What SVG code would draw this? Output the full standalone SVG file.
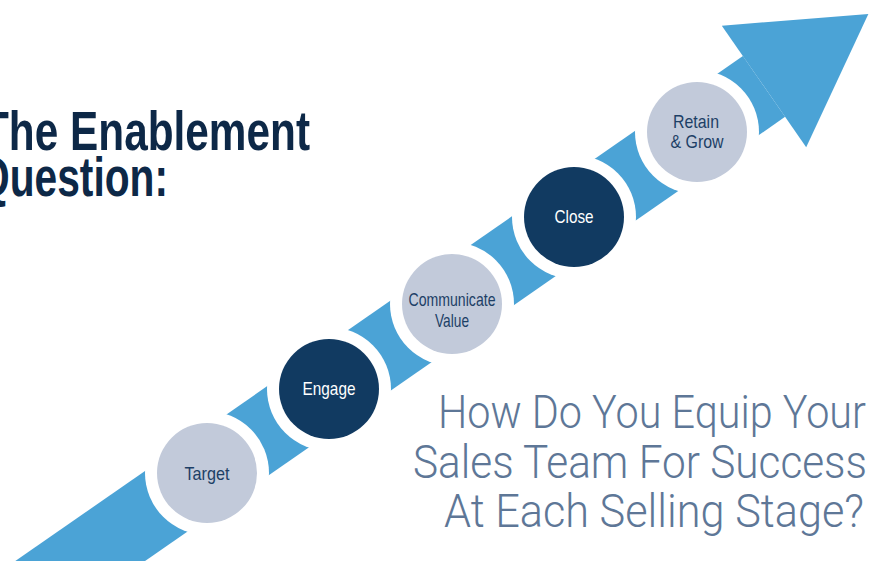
<svg xmlns="http://www.w3.org/2000/svg" width="882" height="561" viewBox="0 0 882 561">
  <style>
    .band { fill: #4BA3D6; }
    .halo { fill: #FFFFFF; }
    .light { fill: #C2CADA; }
    .dark { fill: #113A61; }
    .lbl { font-family: "Liberation Sans", Arial, sans-serif; font-size: 19px; text-anchor: middle; }
    .lbl-dark { fill: #1D3F66; }
    .lbl-light { fill: #FFFFFF; }
    .title { font-family: "Liberation Sans", Arial, sans-serif; font-weight: bold; font-size: 55px; fill: #0D2847; }
    .sub { font-family: Roboto, "Liberation Sans", sans-serif; font-weight: 300; font-size: 46px; fill: #5E7797; text-anchor: end; }
  </style>

  <rect width="882" height="561" fill="#FFFFFF"/>

  <!-- rising arrow: shaft and head drawn along the stage axis -->
  <g id="connectors" transform="translate(207,473) rotate(-34.76)">
    <rect class="band" x="-420" y="-37" width="1098" height="74"/>
    <polygon class="band" points="678,-74 805,0 678,74"/>
  </g>

  <!-- heading -->
  <g id="heading">
    <text class="title" x="-17" y="150" textLength="327" lengthAdjust="spacingAndGlyphs">The Enablement</text>
    <text class="title" x="-22" y="196" textLength="190" lengthAdjust="spacingAndGlyphs">Question:</text>
  </g>

  <!-- stages -->
  <g id="target">
    <circle class="halo" cx="207" cy="473" r="62"/>
    <circle class="light" cx="207" cy="473" r="50"/>
    <text class="lbl lbl-dark" x="207" y="480" textLength="45" lengthAdjust="spacingAndGlyphs">Target</text>
  </g>
  <g id="engage">
    <circle class="halo" cx="329" cy="389" r="62"/>
    <circle class="dark" cx="329" cy="389" r="50"/>
    <text class="lbl lbl-light" x="329" y="395" textLength="53" lengthAdjust="spacingAndGlyphs">Engage</text>
  </g>
  <g id="communicate-value">
    <circle class="halo" cx="452" cy="304" r="62"/>
    <circle class="light" cx="452" cy="304" r="50"/>
    <text class="lbl lbl-dark" x="452" y="306" textLength="87" lengthAdjust="spacingAndGlyphs">Communicate</text>
    <text class="lbl lbl-dark" x="452" y="327" textLength="34" lengthAdjust="spacingAndGlyphs">Value</text>
  </g>
  <g id="close">
    <circle class="halo" cx="574" cy="217" r="62"/>
    <circle class="dark" cx="574" cy="217" r="50"/>
    <text class="lbl lbl-light" x="574" y="223" textLength="39" lengthAdjust="spacingAndGlyphs">Close</text>
  </g>
  <g id="retain-grow">
    <circle class="halo" cx="697" cy="132" r="62"/>
    <circle class="light" cx="697" cy="132" r="50"/>
    <text class="lbl lbl-dark" x="696" y="128" textLength="46" lengthAdjust="spacingAndGlyphs">Retain</text>
    <text class="lbl lbl-dark" x="697" y="148" textLength="53" lengthAdjust="spacingAndGlyphs">&amp; Grow</text>
  </g>

  <!-- question -->
  <g id="question">
    <text class="sub" x="866" y="428" textLength="428" lengthAdjust="spacingAndGlyphs">How Do You Equip Your</text>
    <text class="sub" x="867" y="478" textLength="454" lengthAdjust="spacingAndGlyphs">Sales Team For Success</text>
    <text class="sub" x="864" y="527" textLength="420" lengthAdjust="spacingAndGlyphs">At Each Selling Stage?</text>
  </g>
</svg>
